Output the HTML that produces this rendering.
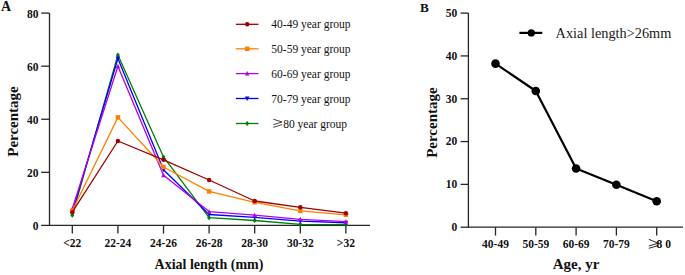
<!DOCTYPE html>
<html><head><meta charset="utf-8"><style>
html,body{margin:0;padding:0;background:#fff;}
body{width:685px;height:275px;overflow:hidden;}
svg{display:block;}
text{font-family:"Liberation Serif",serif;}
.b{font-weight:bold;}
</style></head><body>
<svg width="685" height="275" viewBox="0 0 685 275">
<rect width="685" height="275" fill="#fff"/>
<text x="1" y="10.9" class="b" font-size="14" fill="#111">A</text>
<path d="M49.5,13.1 V225.4 H370" stroke="#262626" stroke-width="1.3" fill="none"/>
<path d="M41.2,225.40 H49.4" stroke="#262626" stroke-width="1.3"/>
<text x="38.5" y="229.80" class="b" font-size="11.5" text-anchor="end" fill="#111">0</text>
<path d="M41.2,172.32 H49.4" stroke="#262626" stroke-width="1.3"/>
<text x="38.5" y="176.72" class="b" font-size="11.5" text-anchor="end" fill="#111">20</text>
<path d="M41.2,119.25 H49.4" stroke="#262626" stroke-width="1.3"/>
<text x="38.5" y="123.65" class="b" font-size="11.5" text-anchor="end" fill="#111">40</text>
<path d="M41.2,66.18 H49.4" stroke="#262626" stroke-width="1.3"/>
<text x="38.5" y="70.58" class="b" font-size="11.5" text-anchor="end" fill="#111">60</text>
<path d="M41.2,13.10 H49.4" stroke="#262626" stroke-width="1.3"/>
<text x="38.5" y="17.50" class="b" font-size="11.5" text-anchor="end" fill="#111">80</text>
<path d="M72.30,225.4 V233.6" stroke="#262626" stroke-width="1.3"/>
<text x="72.30" y="247.4" class="b" font-size="11.5" text-anchor="middle" fill="#111">&lt;22</text>
<path d="M117.90,225.4 V233.6" stroke="#262626" stroke-width="1.3"/>
<text x="117.90" y="247.4" class="b" font-size="11.5" text-anchor="middle" fill="#111">22-24</text>
<path d="M163.50,225.4 V233.6" stroke="#262626" stroke-width="1.3"/>
<text x="163.50" y="247.4" class="b" font-size="11.5" text-anchor="middle" fill="#111">24-26</text>
<path d="M209.10,225.4 V233.6" stroke="#262626" stroke-width="1.3"/>
<text x="209.10" y="247.4" class="b" font-size="11.5" text-anchor="middle" fill="#111">26-28</text>
<path d="M254.70,225.4 V233.6" stroke="#262626" stroke-width="1.3"/>
<text x="254.70" y="247.4" class="b" font-size="11.5" text-anchor="middle" fill="#111">28-30</text>
<path d="M300.30,225.4 V233.6" stroke="#262626" stroke-width="1.3"/>
<text x="300.30" y="247.4" class="b" font-size="11.5" text-anchor="middle" fill="#111">30-32</text>
<path d="M345.90,225.4 V233.6" stroke="#262626" stroke-width="1.3"/>
<text x="345.90" y="247.4" class="b" font-size="11.5" text-anchor="middle" fill="#111">&gt;32</text>
<text x="209" y="269.4" class="b" font-size="14" text-anchor="middle" fill="#111">Axial length (mm)</text>
<text transform="translate(18,121.5) rotate(-90)" class="b" font-size="15" text-anchor="middle" fill="#111">Percentage</text>
<polyline points="72.30,215.32 117.90,55.03 163.50,156.93 209.10,217.70 254.70,220.49 300.30,224.34 345.90,224.60" stroke="#008000" stroke-width="1.3" fill="none" stroke-linejoin="round"/>
<polygon points="72.30,212.84 74.33,215.32 72.30,217.79 70.27,215.32" fill="#008000"/>
<polygon points="117.90,52.55 119.93,55.03 117.90,57.50 115.88,55.03" fill="#008000"/>
<polygon points="163.50,154.46 165.53,156.93 163.50,159.41 161.47,156.93" fill="#008000"/>
<polygon points="209.10,215.23 211.13,217.70 209.10,220.18 207.08,217.70" fill="#008000"/>
<polygon points="254.70,218.02 256.72,220.49 254.70,222.97 252.67,220.49" fill="#008000"/>
<polygon points="300.30,221.86 302.32,224.34 300.30,226.81 298.28,224.34" fill="#008000"/>
<polygon points="345.90,222.13 347.93,224.60 345.90,227.08 343.88,224.60" fill="#008000"/>
<polyline points="72.30,212.13 117.90,58.48 163.50,169.67 209.10,214.52 254.70,217.44 300.30,221.15 345.90,222.75" stroke="#0000FF" stroke-width="1.3" fill="none" stroke-linejoin="round"/>
<polygon points="72.30,214.61 74.55,210.11 70.05,210.11" fill="#0000FF"/>
<polygon points="117.90,60.95 120.15,56.45 115.65,56.45" fill="#0000FF"/>
<polygon points="163.50,172.15 165.75,167.65 161.25,167.65" fill="#0000FF"/>
<polygon points="209.10,216.99 211.35,212.49 206.85,212.49" fill="#0000FF"/>
<polygon points="254.70,219.91 256.95,215.41 252.45,215.41" fill="#0000FF"/>
<polygon points="300.30,223.63 302.55,219.13 298.05,219.13" fill="#0000FF"/>
<polygon points="345.90,225.22 348.15,220.72 343.65,220.72" fill="#0000FF"/>
<polyline points="72.30,208.68 117.90,66.18 163.50,175.24 209.10,211.60 254.70,215.18 300.30,219.30 345.90,221.68" stroke="#B400E6" stroke-width="1.3" fill="none" stroke-linejoin="round"/>
<polygon points="72.30,206.21 74.55,210.71 70.05,210.71" fill="#B400E6"/>
<polygon points="117.90,63.70 120.15,68.20 115.65,68.20" fill="#B400E6"/>
<polygon points="163.50,172.77 165.75,177.27 161.25,177.27" fill="#B400E6"/>
<polygon points="209.10,209.13 211.35,213.63 206.85,213.63" fill="#B400E6"/>
<polygon points="254.70,212.71 256.95,217.21 252.45,217.21" fill="#B400E6"/>
<polygon points="300.30,216.82 302.55,221.32 298.05,221.32" fill="#B400E6"/>
<polygon points="345.90,219.21 348.15,223.71 343.65,223.71" fill="#B400E6"/>
<polyline points="72.30,210.80 117.90,117.39 163.50,167.02 209.10,191.43 254.70,202.31 300.30,210.80 345.90,214.78" stroke="#FF8000" stroke-width="1.3" fill="none" stroke-linejoin="round"/>
<rect x="70.05" y="208.55" width="4.50" height="4.50" fill="#FF8000"/>
<rect x="115.65" y="115.14" width="4.50" height="4.50" fill="#FF8000"/>
<rect x="161.25" y="164.77" width="4.50" height="4.50" fill="#FF8000"/>
<rect x="206.85" y="189.18" width="4.50" height="4.50" fill="#FF8000"/>
<rect x="252.45" y="200.06" width="4.50" height="4.50" fill="#FF8000"/>
<rect x="298.05" y="208.55" width="4.50" height="4.50" fill="#FF8000"/>
<rect x="343.65" y="212.53" width="4.50" height="4.50" fill="#FF8000"/>
<polyline points="72.30,212.13 117.90,141.01 163.50,159.85 209.10,180.02 254.70,200.99 300.30,207.35 345.90,213.19" stroke="#A00000" stroke-width="1.3" fill="none" stroke-linejoin="round"/>
<circle cx="72.30" cy="212.13" r="2.25" fill="#A00000"/>
<circle cx="117.90" cy="141.01" r="2.25" fill="#A00000"/>
<circle cx="163.50" cy="159.85" r="2.25" fill="#A00000"/>
<circle cx="209.10" cy="180.02" r="2.25" fill="#A00000"/>
<circle cx="254.70" cy="200.99" r="2.25" fill="#A00000"/>
<circle cx="300.30" cy="207.35" r="2.25" fill="#A00000"/>
<circle cx="345.90" cy="213.19" r="2.25" fill="#A00000"/>
<path d="M235.8,24.3 H258.5" stroke="#A00000" stroke-width="1.3"/>
<circle cx="247.20" cy="24.30" r="2.25" fill="#A00000"/>
<text x="271.3" y="28.40" font-size="11.5" fill="#111">40-49 year group</text>
<path d="M235.8,48.8 H258.5" stroke="#FF8000" stroke-width="1.3"/>
<rect x="244.95" y="46.55" width="4.50" height="4.50" fill="#FF8000"/>
<text x="271.3" y="52.90" font-size="11.5" fill="#111">50-59 year group</text>
<path d="M235.8,73.6 H258.5" stroke="#B400E6" stroke-width="1.3"/>
<polygon points="247.20,71.12 249.45,75.62 244.95,75.62" fill="#B400E6"/>
<text x="271.3" y="77.70" font-size="11.5" fill="#111">60-69 year group</text>
<path d="M235.8,98.5 H258.5" stroke="#0000FF" stroke-width="1.3"/>
<polygon points="247.20,100.97 249.45,96.47 244.95,96.47" fill="#0000FF"/>
<text x="271.3" y="102.60" font-size="11.5" fill="#111">70-79 year group</text>
<path d="M235.8,123.5 H258.5" stroke="#008000" stroke-width="1.3"/>
<polygon points="247.20,121.03 249.22,123.50 247.20,125.97 245.17,123.50" fill="#008000"/>
<text x="283.2" y="127.60" font-size="11.5" fill="#111">80 year group</text>
<path d="M273.3,119.20 L282,122.00 L273.3,124.70 M273.3,127.30 L282,124.60" stroke="#111" stroke-width="0.8" fill="none"/>
<text x="420" y="12" class="b" font-size="13.2" fill="#111">B</text>
<path d="M468.4,13.1 V227.2 H683" stroke="#262626" stroke-width="1.3" fill="none"/>
<path d="M460.6,227.20 H468.4" stroke="#262626" stroke-width="1.3"/>
<text x="457.3" y="231.10" class="b" font-size="11.5" text-anchor="end" fill="#111">0</text>
<path d="M460.6,184.38 H468.4" stroke="#262626" stroke-width="1.3"/>
<text x="457.3" y="188.28" class="b" font-size="11.5" text-anchor="end" fill="#111">10</text>
<path d="M460.6,141.56 H468.4" stroke="#262626" stroke-width="1.3"/>
<text x="457.3" y="145.46" class="b" font-size="11.5" text-anchor="end" fill="#111">20</text>
<path d="M460.6,98.74 H468.4" stroke="#262626" stroke-width="1.3"/>
<text x="457.3" y="102.64" class="b" font-size="11.5" text-anchor="end" fill="#111">30</text>
<path d="M460.6,55.92 H468.4" stroke="#262626" stroke-width="1.3"/>
<text x="457.3" y="59.82" class="b" font-size="11.5" text-anchor="end" fill="#111">40</text>
<path d="M460.6,13.10 H468.4" stroke="#262626" stroke-width="1.3"/>
<text x="457.3" y="17.00" class="b" font-size="11.5" text-anchor="end" fill="#111">50</text>
<path d="M495.50,227.2 V235.5" stroke="#262626" stroke-width="1.3"/>
<text x="495.50" y="247.6" class="b" font-size="11.5" text-anchor="middle" fill="#111">40-49</text>
<path d="M535.80,227.2 V235.5" stroke="#262626" stroke-width="1.3"/>
<text x="535.80" y="247.6" class="b" font-size="11.5" text-anchor="middle" fill="#111">50-59</text>
<path d="M576.10,227.2 V235.5" stroke="#262626" stroke-width="1.3"/>
<text x="576.10" y="247.6" class="b" font-size="11.5" text-anchor="middle" fill="#111">60-69</text>
<path d="M616.40,227.2 V235.5" stroke="#262626" stroke-width="1.3"/>
<text x="616.40" y="247.6" class="b" font-size="11.5" text-anchor="middle" fill="#111">70-79</text>
<path d="M656.70,227.2 V235.5" stroke="#262626" stroke-width="1.3"/>
<text x="656.6" y="248" class="b" font-size="11.5" fill="#111">8 0</text>
<path d="M648.8,239.3 L658,243.2 L648.8,246 M648.8,248.3 L658,245.6" stroke="#111" stroke-width="0.9" fill="none"/>
<text x="576" y="269.4" class="b" font-size="15" text-anchor="middle" fill="#111">Age, yr</text>
<text transform="translate(437.3,122.6) rotate(-90)" class="b" font-size="15" text-anchor="middle" fill="#111">Percentage</text>
<polyline points="495.50,63.63 535.80,91.03 576.10,168.54 616.40,184.81 656.70,201.29" stroke="#000" stroke-width="2.2" fill="none" stroke-linejoin="round"/>
<circle cx="495.50" cy="63.63" r="4.3" fill="#000"/>
<circle cx="535.80" cy="91.03" r="4.3" fill="#000"/>
<circle cx="576.10" cy="168.54" r="4.3" fill="#000"/>
<circle cx="616.40" cy="184.81" r="4.3" fill="#000"/>
<circle cx="656.70" cy="201.29" r="4.3" fill="#000"/>
<path d="M519.4,32.9 H542.3" stroke="#000" stroke-width="2.2"/>
<circle cx="531.3" cy="32.9" r="3.6" fill="#000"/>
<text x="555.6" y="37.7" font-size="14.3" fill="#1a1a1a">Axial length&gt;26mm</text>
</svg></body></html>
